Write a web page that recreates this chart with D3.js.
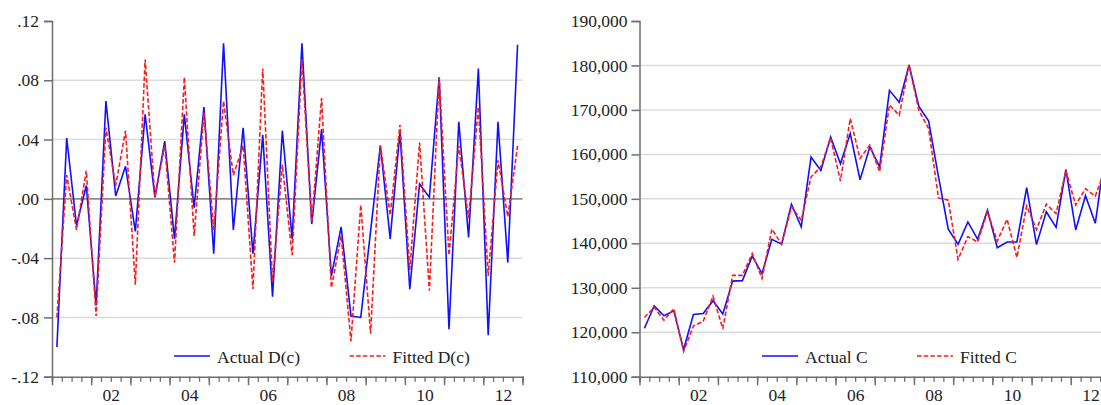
<!DOCTYPE html>
<html>
<head>
<meta charset="utf-8">
<script src="https://cdn.jsdelivr.net/npm/d3@7/dist/d3.min.js"></script>
<style>
  html, body { margin: 0; padding: 0; background: #fff; overflow: hidden; }
  svg { display: block; }
  svg text { font-family: "Liberation Serif", Tinos, "Times New Roman", serif; fill: #222; }
</style>
</head>
<body>
<svg id="chart" width="1101" height="405"></svg>
<script>
// Quarterly sample 2001Q1 - 2012Q4
const quarters = [
  "2001Q1","2001Q2","2001Q3","2001Q4","2002Q1","2002Q2","2002Q3","2002Q4",
  "2003Q1","2003Q2","2003Q3","2003Q4","2004Q1","2004Q2","2004Q3","2004Q4",
  "2005Q1","2005Q2","2005Q3","2005Q4","2006Q1","2006Q2","2006Q3","2006Q4",
  "2007Q1","2007Q2","2007Q3","2007Q4","2008Q1","2008Q2","2008Q3","2008Q4",
  "2009Q1","2009Q2","2009Q3","2009Q4","2010Q1","2010Q2","2010Q3","2010Q4",
  "2011Q1","2011Q2","2011Q3","2011Q4","2012Q1","2012Q2","2012Q3","2012Q4"
];

// First differences D(c)
const actualDc = [
  -0.100, 0.041, -0.018, 0.009, -0.072, 0.066, 0.002, 0.022,
  -0.022, 0.057, 0.001, 0.039, -0.027, 0.057, -0.006, 0.062,
  -0.037, 0.105, -0.021, 0.048, -0.037, 0.043, -0.066, 0.046,
  -0.027, 0.105, -0.017, 0.047, -0.052, -0.019, -0.079, -0.080,
  -0.022, 0.036, -0.027, 0.045, -0.061, 0.010, 0.001, 0.082,
  -0.088, 0.052, -0.026, 0.088, -0.092, 0.052, -0.043, 0.104
];
const fittedDc = [
  -0.080, 0.016, -0.021, 0.019, -0.079, 0.048, 0.009, 0.046,
  -0.058, 0.094, 0.001, 0.036, -0.043, 0.082, -0.025, 0.058,
  -0.021, 0.066, 0.016, 0.036, -0.061, 0.088, -0.056, 0.023,
  -0.038, 0.094, -0.016, 0.068, -0.060, -0.025, -0.096, -0.004,
  -0.091, 0.036, -0.011, 0.050, -0.048, 0.038, -0.062, 0.082,
  -0.038, 0.036, -0.013, 0.062, -0.052, 0.026, -0.012, 0.036
];

// Levels C
const actualC = [
  120900, 125900, 123700, 124800, 116100, 124000, 124200, 127100,
  124100, 131500, 131600, 137100, 133200, 140900, 139800, 148800,
  143700, 159400, 156400, 163900, 157900, 164700, 154300, 161700,
  157200, 174400, 171700, 180100, 170800, 167500, 155000, 143200,
  139800, 144800, 140900, 147500, 139000, 140300, 140300, 152500,
  139700, 147100, 143600, 156600, 143000, 150700, 144500, 160300
];
const fittedC = [
  123300, 125600, 122700, 125300, 115700, 121400, 122500, 128100,
  120800, 132800, 132800, 137700, 132100, 143200, 139800, 148200,
  145200, 154900, 157200, 163700, 154000, 168100, 159100, 162100,
  156100, 171100, 168800, 180100, 169900, 165800, 150200, 149700,
  136400, 141500, 140300, 147100, 140500, 145400, 136800, 148400,
  143100, 148800, 146700, 156300, 148600, 152300, 150600, 156700
];

// Axis labels
const yearLabels = ["02", "04", "06", "08", "10", "12"];
const dcTicks = [-0.12, -0.08, -0.04, 0, 0.04, 0.08, 0.12];
const cTicks = [110000, 120000, 130000, 140000, 150000, 160000, 170000, 180000, 190000];
const legendDc = ["Actual D(c)", "Fitted D(c)"];
const legendC = ["Actual C", "Fitted C"];

const BLUE = "#1010ff";
const RED = "#ff1a1a";
const GRID = "#dcdcdc";
const AXIS = "#6e6e6e";
const FONT = 17.5;
const SERIF = '"Liberation Serif", Tinos, "Times New Roman", serif';

// Quarter string -> decimal year at the middle of the quarter
function qTime(q) {
  const y = +q.slice(0, 4), k = +q.slice(5);
  return y + (k - 0.5) / 4;
}
const times = quarters.map(qTime);
const startYear = Math.floor(d3.min(times));
const endYear = Math.ceil(d3.max(times));

const svg = d3.select("#chart");

function panel(opts) {
  const g = svg.append("g");
  const x = d3.scaleLinear().domain([startYear, endYear]).range([opts.left, opts.right]);
  const y = d3.scaleLinear().domain(opts.domain).range([opts.bottom, opts.top]);

  // horizontal grid
  g.append("g").selectAll("line")
    .data(opts.ticks.filter(t => t !== opts.domain[0] && t !== opts.domain[1] && t !== opts.zero))
    .join("line")
    .attr("x1", opts.left).attr("x2", opts.right)
    .attr("y1", d => y(d)).attr("y2", d => y(d))
    .attr("stroke", GRID).attr("stroke-width", 1.5);

  if (opts.zero !== undefined) {
    g.append("line")
      .attr("x1", opts.left).attr("x2", opts.right)
      .attr("y1", y(opts.zero)).attr("y2", y(opts.zero))
      .attr("stroke", "#8c8c8c").attr("stroke-width", 1.8);
  }

  // y axis
  const yAxis = d3.axisLeft(y).tickValues(opts.ticks).tickFormat(opts.fmt)
    .tickSize(8).tickPadding(opts.pad);
  const ya = g.append("g").attr("transform", `translate(${opts.left},0)`).call(yAxis)
    .attr("font-family", SERIF);
  ya.select(".domain").attr("stroke", AXIS).attr("stroke-width", 1.5);
  ya.selectAll(".tick line").attr("stroke", AXIS).attr("stroke-width", 1.5);
  ya.selectAll(".tick text").attr("font-size", FONT).attr("fill", "#222");

  // x axis: quarterly minor ticks, yearly major ticks, labels mid-year
  const qVals = d3.range(startYear * 4, endYear * 4 + 1).map(v => v / 4);
  const minor = g.append("g").attr("transform", `translate(0,${opts.bottom})`)
    .call(d3.axisBottom(x).tickValues(qVals).tickSize(5).tickFormat(""));
  minor.select(".domain").attr("stroke", AXIS).attr("stroke-width", 1.5);
  minor.selectAll(".tick line").attr("stroke", AXIS).attr("stroke-width", 1.3);

  const yrVals = d3.range(startYear, endYear + 1);
  const major = g.append("g").attr("transform", `translate(0,${opts.bottom})`)
    .call(d3.axisBottom(x).tickValues(yrVals).tickSize(8.5).tickFormat(""));
  major.select(".domain").remove();
  major.selectAll(".tick line").attr("stroke", AXIS).attr("stroke-width", 1.5);

  const labelTimes = yearLabels.map(s => 2000 + (+s) + 0.5);
  const lab = g.append("g").attr("transform", `translate(0,${opts.bottom})`)
    .call(d3.axisBottom(x).tickValues(labelTimes).tickSize(0).tickPadding(0)
      .tickFormat((d, i) => yearLabels[i]))
    .attr("font-family", SERIF);
  lab.select(".domain").remove();
  lab.selectAll(".tick text").attr("font-size", FONT).attr("fill", "#222")
    .attr("dy", null).attr("y", 24.5);

  // series
  const line = d3.line().x((d, i) => x(times[i])).y(d => y(d));
  g.append("path").datum(opts.actual).attr("d", line)
    .attr("fill", "none").attr("stroke", BLUE).attr("stroke-width", 1.6)
    .attr("stroke-linejoin", "miter");
  g.append("path").datum(opts.fitted).attr("d", line)
    .attr("fill", "none").attr("stroke", RED).attr("stroke-width", 1.6)
    .attr("stroke-dasharray", "4.5,2.2");

  // legend
  const lg = g.append("g").attr("font-family", SERIF);
  const ly = opts.legendY;
  opts.legend.forEach((name, i) => {
    const lx = opts.legendX[i];
    lg.append("line").attr("x1", lx).attr("x2", lx + 36).attr("y1", ly).attr("y2", ly)
      .attr("stroke", i === 0 ? BLUE : RED).attr("stroke-width", 1.6)
      .attr("stroke-dasharray", i === 0 ? null : "4.5,2.2");
    lg.append("text").attr("x", lx + 43).attr("y", ly + 6.5)
      .attr("font-size", FONT).text(name);
  });
}

panel({
  left: 52, right: 522.5, top: 21, bottom: 376.7,
  domain: [-0.12, 0.12], ticks: dcTicks, zero: 0, pad: 5,
  fmt: d => (d < 0 ? "-" : "") + d3.format(".2f")(Math.abs(d)).replace(/^0/, ""),
  actual: actualDc, fitted: fittedDc,
  legend: legendDc, legendX: [174, 349.5], legendY: 356
});

panel({
  left: 639.5, right: 1110, top: 21, bottom: 376.7,
  domain: [110000, 190000], ticks: cTicks, pad: 4,
  fmt: d3.format(","),
  actual: actualC, fitted: fittedC,
  legend: legendC, legendX: [762, 917], legendY: 356
});
</script>
</body>
</html>
